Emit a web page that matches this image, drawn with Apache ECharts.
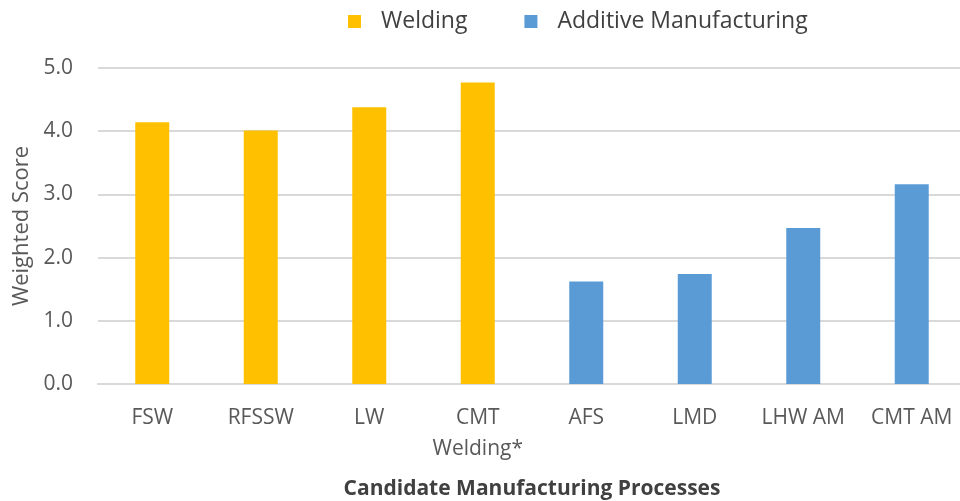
<!DOCTYPE html>
<html lang="en">
<head>
    <meta charset="UTF-8">
    <title>Weighted Score</title>
    <style>
        body, html { margin: 0; width: 100%; height: 100%; background: #fff; }
        #container { width: 960px; height: 501px; }
    </style>
    <script src="https://cdn.jsdelivr.net/npm/echarts@6/dist/echarts.min.js"></script>
</head>
<body>
<div id="container"></div>
<script type="text/javascript">
    var processes = ['FSW', 'RFSSW', 'LW', 'CMT\nWelding*', 'AFS', 'LMD', 'LHW AM', 'CMT AM'];
    var welding = [4.14, 4.01, 4.38, 4.77, '-', '-', '-', '-'];
    var additive = ['-', '-', '-', '-', 1.62, 1.74, 2.47, 3.16];
    var yTicks = [0, 1, 2, 3, 4, 5];

    var font = '"Open Sans", sans-serif';
    var myChart = echarts.init(document.getElementById('container'));
    var option = {
        animation: false,
        legend: {
            top: 5,
            left: 343,
            itemWidth: 13,
            itemHeight: 13,
            itemGap: 57,
            icon: 'rect',
            textStyle: { fontFamily: font, fontSize: 23, color: '#404040', padding: [0, 0, 0, 15] },
            data: ['Welding', 'Additive Manufacturing']
        },
        grid: { left: 98, right: -6, top: 68, bottom: 117, outerBoundsMode: 'none' },
        xAxis: {
            type: 'category',
            data: processes,
            name: 'Candidate Manufacturing Processes',
            nameLocation: 'middle',
            nameGap: 95,
            nameTextStyle: { fontFamily: font, fontSize: 21, fontWeight: 'bold', color: '#404040' },
            axisLine: { lineStyle: { color: '#d9d9d9', width: 2 } },
            axisTick: { show: false },
            axisLabel: { interval: 0, fontFamily: font, fontSize: 21, color: '#595959', margin: 19, lineHeight: 31 }
        },
        yAxis: {
            type: 'value',
            min: yTicks[0],
            max: yTicks[yTicks.length - 1],
            interval: 1,
            name: 'Weighted Score',
            nameLocation: 'middle',
            nameGap: 65,
            nameTextStyle: { fontFamily: font, fontSize: 22, color: '#595959' },
            axisLine: { show: false },
            axisTick: { show: false },
            splitLine: { lineStyle: { color: '#d9d9d9', width: 2 } },
            axisLabel: {
                fontFamily: font, fontSize: 21, color: '#595959', margin: 25,
                formatter: function (v) { return v.toFixed(1); }
            }
        },
        series: [
            { name: 'Welding', type: 'bar', stack: 'all', barWidth: 34, data: welding,
              itemStyle: { color: '#ffc000' } },
            { name: 'Additive Manufacturing', type: 'bar', stack: 'all', barWidth: 34, data: additive,
              itemStyle: { color: '#5b9bd5' } }
        ]
    };
    myChart.setOption(option);
</script>
</body>
</html>
